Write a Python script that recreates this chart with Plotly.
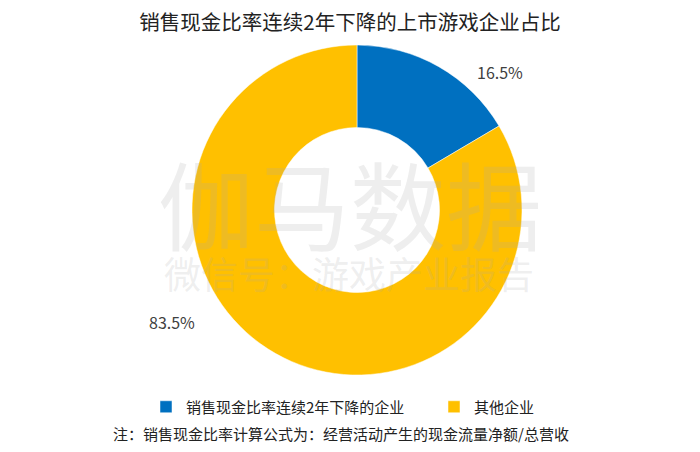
import plotly.graph_objects as go

categories = ["销售现金比率连续2年下降的企业", "其他企业"]
values = [16.5, 83.5]
colors = ["#0070C0", "#FFC000"]

title_text = "销售现金比率连续2年下降的上市游戏企业占比"
note_text = "注：销售现金比率计算公式为：经营活动产生的现金流量净额/总营收"
watermark_main = "伽马数据"
watermark_sub = "微信号：游戏产业报告"

FONT = "Noto Sans CJK SC, Microsoft YaHei, sans-serif"

OFF = 8  # page body margin
W, H = 700, 452
ML, MR, MT, MB = 0, 2, 37, 85
PW, PH = W - ML - MR, H - MT - MB


def px_x(sx):
    return (sx - OFF - ML) / PW


def px_y(sy):
    return (H - MB - (sy - OFF)) / PH


fig = go.Figure()
fig.add_trace(go.Pie(
    labels=categories,
    values=values,
    hole=0.5,
    sort=False,
    direction="clockwise",
    rotation=0,
    marker=dict(colors=colors, line=dict(color="white", width=0.5)),
    textinfo="none",
    hoverinfo="label+percent",
    domain=dict(x=[0, 1], y=[0, 1]),
))

wm_color = "rgba(170,170,170,0.2)"
fig.add_annotation(text=watermark_main, x=px_x(350), y=px_y(202), xref="paper", yref="paper",
                   xanchor="center", yanchor="middle", showarrow=False,
                   font=dict(family=FONT, size=96, color=wm_color))
fig.add_annotation(text=watermark_sub, x=px_x(349), y=px_y(273), xref="paper", yref="paper",
                   xanchor="center", yanchor="middle", showarrow=False,
                   font=dict(family=FONT, size=37, color=wm_color))

label_pos = [(500, 72), (172, 322)]
for v, (sx, sy) in zip(values, label_pos):
    fig.add_annotation(text=f"{v:.1f}%", x=px_x(sx), y=px_y(sy), xref="paper", yref="paper",
                       xanchor="center", yanchor="middle", showarrow=False,
                       font=dict(family=FONT, size=16, color="#404040"))

fig.add_annotation(text=note_text, x=px_x(341), y=px_y(433), xref="paper", yref="paper",
                   xanchor="center", yanchor="middle", showarrow=False,
                   font=dict(family=FONT, size=15, color="#222222"))

fig.update_layout(
    width=W, height=H,
    margin=dict(l=ML, r=MR, t=MT, b=MB, autoexpand=False),
    paper_bgcolor="white",
    plot_bgcolor="white",
    title=dict(text=title_text, x=px_x(350), xanchor="center", y=1 - (23 - OFF) / H, yanchor="middle",
               xref="paper", font=dict(family=FONT, size=20.5, color="#222222")),
    showlegend=True,
    legend=dict(orientation="h", x=px_x(434), xanchor="center", y=px_y(407), yanchor="middle",
                font=dict(family=FONT, size=15, color="#222222"),
                itemwidth=30, entrywidth=243, traceorder="normal"),
)

fig.write_html("out.html")
